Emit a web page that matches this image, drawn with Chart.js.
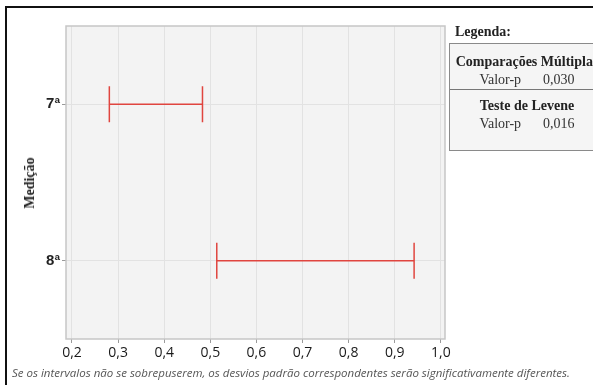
<!DOCTYPE html>
<html lang="pt">
<head>
<meta charset="utf-8">
<script src="https://cdn.jsdelivr.net/npm/chart.js@4/dist/chart.umd.min.js"></script>
<style>
  html, body { margin: 0; padding: 0; background: #fff; }
  #wrap { position: relative; width: 593px; height: 385px; overflow: hidden; }
  #grafico { position: absolute; left: 0; top: 0; }
  .moldura-topo { position: absolute; left: 5px; top: 6px; width: 600px; height: 2px; background: #111; }
  .moldura-esq { position: absolute; left: 5px; top: 6px; width: 2px; height: 400px; background: #111; }
  .titulo-y {
    position: absolute; left: 30px; top: 183px;
    transform: translate(-50%, -50%) rotate(-90deg);
    font: bold 14px "Liberation Serif", serif; color: #222; white-space: nowrap;
  }
  .legenda-titulo { position: absolute; left: 455px; top: 24px; font: bold 14px "Liberation Serif", serif; color: #222; }
  .legenda {
    position: absolute; left: 449px; top: 43px; width: 170px; height: 106px;
    border: 1px solid #8a8a8a; background: #f5f5f5;
    font: 14px "Liberation Serif", serif; color: #333;
  }
  .legenda .linha { position: absolute; left: 0; width: 154px; text-align: center; white-space: nowrap; }
  .legenda b { color: #222; }
  .legenda .num { display: inline-block; margin-left: 22px; }
  .legenda .sep { position: absolute; left: 0; top: 45px; width: 100%; height: 1px; background: #777; }
  .rodape {
    position: absolute; left: 12px; top: 365px;
    font: italic 11.5px "Open Sans", sans-serif; color: #555; white-space: nowrap;
  }
</style>
</head>
<body>
<div id="wrap">
  <canvas id="grafico" width="593" height="385"></canvas>
  <div class="moldura-topo"></div>
  <div class="moldura-esq"></div>
  <div class="titulo-y">Medição</div>
  <div class="legenda-titulo">Legenda:</div>
  <div class="legenda">
    <div class="linha" style="top:10px"><b>Comparações Múltiplas</b></div>
    <div class="linha" style="top:28px">Valor-p<span class="num">0,030</span></div>
    <div class="sep"></div>
    <div class="linha" style="top:54px"><b>Teste de Levene</b></div>
    <div class="linha" style="top:72px">Valor-p<span class="num">0,016</span></div>
  </div>
  <div class="rodape">Se os intervalos não se sobrepuserem, os desvios padrão correspondentes serão significativamente diferentes.</div>
</div>
<script>
// intervalos de confiança para o desvio padrão, por medição
const medicoes = ['7ª', '8ª'];
const limInferior = [0.281, 0.514];
const limSuperior = [0.483, 0.942];
const xTicks = [0.2, 0.3, 0.4, 0.5, 0.6, 0.7, 0.8, 0.9, 1.0];

const corIntervalo = '#e0453f';

// fundo cinza e moldura da área de plotagem
const fundoArea = {
    id: 'fundoArea',
    beforeDraw: function (chart) {
        const { ctx, chartArea } = chart;
        ctx.save();
        ctx.fillStyle = '#f3f3f3';
        ctx.fillRect(chartArea.left, chartArea.top, chartArea.width, chartArea.height);
        ctx.restore();
    },
    afterDraw: function (chart) {
        const { ctx, chartArea } = chart;
        ctx.save();
        ctx.strokeStyle = '#c6c6c6';
        ctx.lineWidth = 1.5;
        ctx.strokeRect(chartArea.left, chartArea.top, chartArea.width, chartArea.height);
        ctx.restore();
    }
};

const datasets = medicoes.map(function (m, i) {
    return {
        data: [{ x: limInferior[i], y: m }, { x: limSuperior[i], y: m }],
        showLine: true,
        borderColor: corIntervalo,
        borderWidth: 1.5,
        pointStyle: 'line',
        rotation: 90,
        pointRadius: 18,
        pointBorderColor: corIntervalo,
        pointBorderWidth: 1.5,
    };
});

new Chart(document.getElementById('grafico').getContext('2d'), {
    type: 'scatter',
    data: { datasets: datasets },
    plugins: [fundoArea],
    options: {
        responsive: false,
        animation: false,
        layout: { padding: { left: 0, top: 26, right: 148, bottom: 24 } },
        plugins: { legend: { display: false }, tooltip: { enabled: false } },
        scales: {
            x: {
                type: 'linear',
                min: 0.187,
                max: 1.009,
                afterBuildTicks: function (axis) {
                    axis.ticks = xTicks.map(v => ({ value: v }));
                },
                afterFit: function (axis) { axis.height = 22; },
                border: { display: false },
                grid: { color: '#e2e2e2', tickColor: '#9a9a9a', tickLength: 4 },
                ticks: {
                    padding: 2,
                    color: '#1a1a1a',
                    font: { family: 'Open Sans', size: 14 },
                    callback: v => v.toFixed(1).replace('.', ',')
                }
            },
            y: {
                type: 'category',
                labels: medicoes,
                offset: true,
                afterFit: function (axis) { axis.width = 66; },
                border: { display: false },
                grid: { offset: false, color: '#e2e2e2', tickColor: '#9a9a9a', tickLength: 4 },
                ticks: {
                    padding: 2,
                    color: '#222',
                    font: { family: 'Liberation Sans', size: 15, weight: 'bold' }
                }
            }
        }
    }
});
</script>
</body>
</html>
